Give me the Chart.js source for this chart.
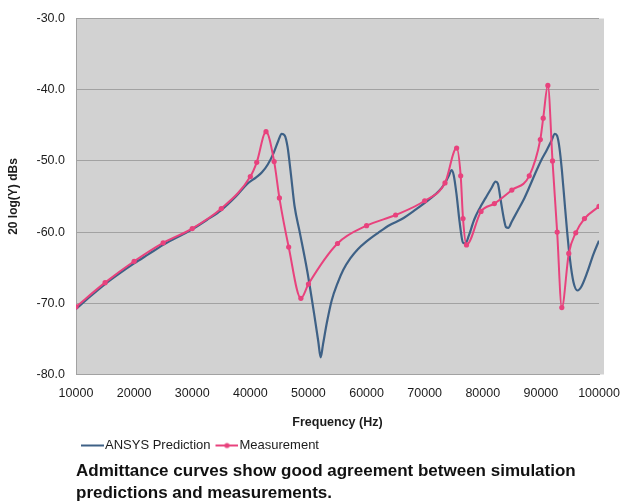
<!DOCTYPE html>
<html>
<head>
<meta charset="utf-8">
<script src="https://cdn.jsdelivr.net/npm/chart.js@4.4.1/dist/chart.umd.min.js"></script>
<style>
  html, body { margin: 0; padding: 0; background: #ffffff; }
  #wrap { width: 620px; height: 504px; }
</style>
</head>
<body>
<div id="wrap"><canvas id="admChart" width="620" height="504"></canvas></div>
<script>
// values
const ansysFreq = [10000, 12500, 15000, 17500, 20000, 22500, 25000, 27500, 30000, 32500,
  35000, 37500, 39500, 41000, 42000, 43000, 44000, 44800, 45400, 45900,
  46400, 47000, 47600, 48500, 49800, 51000, 51700, 52100, 52500, 53200,
  54000, 55000, 56000, 57200, 58500, 60000, 62000, 64000, 66000, 68500,
  70800, 72500, 73500, 74200, 74600, 75000, 75500, 76000, 76600, 77000,
  77600, 78500, 79500, 80500, 81500, 82200, 82600, 83100, 83600, 84000,
  84400, 85000, 86000, 87000, 88000, 89000, 90000, 91000, 91800, 92400,
  92800, 93200, 93600, 94000, 94500, 95000, 95600, 96300, 97000, 98000,
  99000, 100000];
const ansysDb = [-70.8, -69.0, -67.3, -65.8, -64.4, -63.1, -61.8, -60.7, -59.6, -58.3,
  -56.9, -55.0, -53.2, -52.3, -51.6, -50.5, -48.9, -47.2, -46.2, -46.4,
  -48.0, -52.0, -56.3, -60.0, -65.5, -71.6, -75.4, -77.6, -75.8, -72.6,
  -69.6, -67.2, -65.3, -63.7, -62.4, -61.3, -60.1, -59.0, -58.2, -56.8,
  -55.4, -54.2, -53.1, -52.0, -51.3, -52.0, -54.8, -58.5, -61.5, -61.6,
  -60.5, -58.3, -56.6, -55.2, -53.8, -52.9, -53.2, -55.6, -58.0, -59.3,
  -59.4, -58.5, -57.0, -55.5, -53.7, -51.8, -50.0, -48.5, -47.2, -46.2,
  -46.5, -48.2, -51.2, -55.0, -59.8, -63.8, -67.0, -68.2, -67.6, -65.6,
  -63.2, -61.2];

const measFreq = [10000, 15000, 20000, 25000, 30000, 35000, 40000, 41100, 42700, 44100,
  45000, 46600, 48700, 50000, 55000, 60000, 65000, 70000, 73500, 75500,
  76200, 76600, 77200, 79700, 82000, 85000, 88000, 89900, 90400, 91200,
  92000, 92800, 93600, 94800, 96000, 97500, 100000];
const measDb = [-70.5, -67.1, -64.1, -61.5, -59.5, -56.7, -52.2, -50.2, -45.9, -50.1,
  -55.2, -62.1, -69.3, -67.3, -61.6, -59.1, -57.6, -55.6, -53.1, -48.2,
  -52.1, -58.1, -61.8, -57.1, -56.0, -54.1, -52.1, -47.0, -44.0, -39.4,
  -50.0, -60.0, -70.6, -63.0, -60.1, -58.1, -56.4];

const xTicks = [10000, 20000, 30000, 40000, 50000, 60000, 70000, 80000, 90000, 100000];
const yTicks = [-80, -70, -60, -50, -40, -30];

const seriesNames = ["ANSYS Prediction", "Measurement"];
const captionLines = [
  "Admittance curves show good agreement between simulation",
  "predictions and measurements."
];

const blue = "#3e6186";
const pink = "#e8427d";
const font = "'Liberation Sans', Arial, Helvetica, sans-serif";

function toPoints(xs, ys) {
  return xs.map((x, i) => ({ x: x, y: ys[i] }));
}

// legend icons: a line (with a dot for the measurement), drawn in the
// right part of the image so it sits close to the text
function legendIcon(color, withDot) {
  const c = document.createElement("canvas");
  c.width = 28;
  c.height = 10;
  const g = c.getContext("2d");
  g.strokeStyle = color;
  g.lineWidth = 2;
  g.beginPath();
  g.moveTo(5, 5);
  g.lineTo(28, 5);
  g.stroke();
  if (withDot) {
    g.fillStyle = color;
    g.beginPath();
    g.arc(16.5, 5, 2.6, 0, Math.PI * 2);
    g.fill();
  }
  return c;
}

// gray plot background
const plotBackground = {
  id: "plotBackground",
  beforeDraw(chart) {
    const a = chart.chartArea;
    const ctx = chart.ctx;
    ctx.save();
    ctx.fillStyle = "#d2d2d2";
    ctx.fillRect(a.left, a.top, a.right - a.left + 5, a.bottom - a.top);
    ctx.restore();
  }
};

const ctx = document.getElementById("admChart").getContext("2d");

new Chart(ctx, {
  type: "line",
  data: {
    datasets: [
      {
        label: seriesNames[0],
        data: toPoints(ansysFreq, ansysDb),
        borderColor: blue,
        borderWidth: 2.2,
        pointRadius: 0,
        cubicInterpolationMode: "monotone",
        fill: false,
        order: 2
      },
      {
        label: seriesNames[1],
        data: toPoints(measFreq, measDb),
        borderColor: pink,
        borderWidth: 2,
        pointRadius: 2.6,
        pointBackgroundColor: pink,
        pointBorderColor: pink,
        pointBorderWidth: 0,
        cubicInterpolationMode: "monotone",
        fill: false,
        order: 1
      }
    ]
  },
  options: {
    responsive: false,
    animation: false,
    layout: { padding: { top: 17, right: 21, bottom: 0, left: 0 } },
    scales: {
      x: {
        type: "linear",
        min: 10000,
        max: 100000,
        afterBuildTicks: (scale) => {
          scale.ticks = xTicks.map((v) => ({ value: v }));
        },
        afterFit: (scale) => {
          scale.paddingLeft = 0;
          scale.paddingRight = 0;
        },
        ticks: {
          padding: 11.5,
          color: "#1c1c1c",
          font: { family: font, size: 12.5 },
          maxRotation: 0,
          callback: (v) => String(v)
        },
        grid: { display: false, drawTicks: false },
        border: { display: true, color: "#a2a2a2", width: 1 },
        title: {
          display: true,
          text: "Frequency (Hz)",
          color: "#1c1c1c",
          font: { family: font, size: 12.5, weight: "bold" },
          padding: { top: 3, bottom: 3 }
        }
      },
      y: {
        min: -80,
        max: -30,
        afterBuildTicks: (scale) => {
          scale.ticks = yTicks.map((v) => ({ value: v }));
        },
        afterFit: (scale) => {
          scale.width = 76;
        },
        ticks: {
          padding: 11,
          color: "#1c1c1c",
          font: { family: font, size: 12.5 },
          callback: (v) => v.toFixed(1)
        },
        grid: { color: "#a2a2a2", lineWidth: 1, drawTicks: false },
        border: { display: true, color: "#a2a2a2", width: 1 },
        title: {
          display: true,
          text: "20 log(Y) dBs",
          color: "#1c1c1c",
          font: { family: font, size: 12, weight: "bold" },
          padding: { top: 6.5, bottom: 0 }
        }
      }
    },
    plugins: {
      legend: {
        position: "bottom",
        align: "start",
        fullSize: false,
        labels: {
          usePointStyle: true,
          pointStyleWidth: 17,
          padding: 5.5,
          color: "#1c1c1c",
          font: { family: font, size: 13 },
          generateLabels: () => [
            { text: seriesNames[0], pointStyle: legendIcon(blue, false), fontColor: "#1c1c1c",
              lineWidth: 0, strokeStyle: "rgba(0,0,0,0)", fillStyle: blue, datasetIndex: 0, hidden: false },
            { text: seriesNames[1], pointStyle: legendIcon(pink, true), fontColor: "#1c1c1c",
              lineWidth: 0, strokeStyle: "rgba(0,0,0,0)", fillStyle: pink, datasetIndex: 1, hidden: false }
          ]
        }
      },
      title: {
        display: true,
        position: "bottom",
        align: "start",
        fullSize: false,
        text: captionLines,
        color: "#111111",
        font: { family: font, size: 17, weight: "bold", lineHeight: "22px" },
        padding: { top: -2, bottom: 0 }
      },
      tooltip: { enabled: false }
    }
  },
  plugins: [plotBackground]
});
</script>
</body>
</html>
